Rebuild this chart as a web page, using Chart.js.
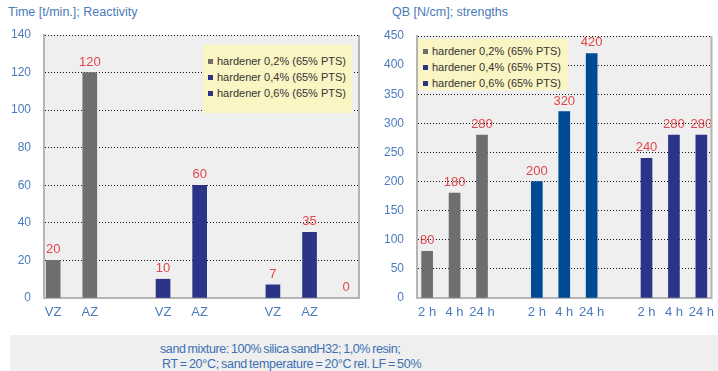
<!DOCTYPE html>
<html>
<head>
<meta charset="utf-8">
<script src="https://cdn.jsdelivr.net/npm/chart.js@4.4.0/dist/chart.umd.min.js"></script>
<style>
  html, body { margin: 0; padding: 0; background: #fff; }
  body { width: 718px; height: 371px; overflow: hidden; position: relative;
         font-family: 'Liberation Sans', Arial, sans-serif; }
  .title { position: absolute; top: 5px; font-size: 12.5px; color: #4a7ab8; white-space: nowrap; }
  .panel { position: absolute; top: 0; }
  .legend { position: absolute; background: #faf5c3; font-size: 11px; color: #333;
            box-sizing: border-box; padding-left: 5px; white-space: nowrap; }
  .legend div { height: 16px; line-height: 16px; }
  .legend i { display: inline-block; width: 5px; height: 5px; margin-right: 4px; vertical-align: middle; position: relative; top: -1px; }
  .note { position: absolute; left: 10px; top: 335px; width: 708px; height: 36px; background: #efefef;
          color: #3c6fb3; font-size: 12.5px; line-height: 15px; box-sizing: border-box;
          padding: 7px 0 0 150px; white-space: nowrap; }
  .note .l1 { letter-spacing: -0.4px; word-spacing: -1px; }
  .note .l2 { letter-spacing: -0.3px; word-spacing: -1px; padding-left: 2px; }
</style>
</head>
<body>
<div class="title" style="left:8px">Time [t/min.]; Reactivity</div>
<div class="title" style="left:392px">QB [N/cm]; strengths</div>

<div class="panel" style="left:0;width:360px;height:335px"><canvas id="reactivity" width="360" height="335"></canvas></div>
<div class="panel" style="left:360px;width:361px;height:335px"><canvas id="strengths" width="361" height="335"></canvas></div>

<div class="legend" id="leg-reactivity" style="left:203px;top:45px;width:149px;height:68px;padding-top:8px"></div>
<div class="legend" id="leg-strengths" style="left:418px;top:39px;width:150px;height:51px;padding-top:4px"></div>

<div class="note"><span class="l1">sand mixture: 100% silica sandH32; 1,0% resin;</span><br><span class="l2">RT = 20°C; sand temperature = 20°C rel. LF = 50%</span></div>

<script>
// series names (same for both charts)
const seriesNames = ['hardener 0,2% (65% PTS)', 'hardener 0,4% (65% PTS)', 'hardener 0,6% (65% PTS)'];

// Reactivity, time in minutes (slot index = x position, '' = empty slot)
const reactLabels = ['VZ', 'AZ', '', 'VZ', 'AZ', '', 'VZ', 'AZ', ''];
const react02 = [20, 120, null, null, null, null, null, null, null];
const react04 = [null, null, null, 10, 60, null, null, null, null];
const react06 = [null, null, null, null, null, null, 7, 35, 0];

// Strengths QB in N/cm
const strengthLabels = ['2 h', '4 h', '24 h', '', '2 h', '4 h', '24 h', '', '2 h', '4 h', '24 h'];
const strength02 = [80, 180, 280, null, null, null, null, null, null, null, null];
const strength04 = [null, null, null, null, 200, 320, 420, null, null, null, null];
const strength06 = [null, null, null, null, null, null, null, null, 240, 280, 280];

const GRAY = '#6e6e6e', NAVY = '#2b3487', BLUE = '#004a93';
const AXIS_BLUE = '#4b7bbd', LABEL_RED = '#e0474c';
const FONT = 'Liberation Sans, Arial, sans-serif';

// values -> {x, y} points, skipping empty slots
const pts = vals => vals.map((v, i) => v === null ? null : { x: i, y: v }).filter(Boolean);

function barDS(label, vals, color, thickness){
  return {
    label, data: pts(vals), barThickness: thickness, grouped: false,
    // a zero bar only carries its label
    backgroundColor: c => (c.raw && c.raw.y === 0) ? 'transparent' : color
  };
}

// plot background + right frame line
const plotFrame = {
  id: 'plotFrame',
  beforeDraw(chart){
    const { ctx, chartArea: a } = chart;
    ctx.save();
    ctx.fillStyle = '#efefef';
    ctx.fillRect(a.left, a.top, a.right - a.left, a.bottom - a.top);
    ctx.restore();
  },
  afterDraw(chart){
    const { ctx, chartArea: a } = chart;
    ctx.save();
    ctx.strokeStyle = '#b5b5b5';
    ctx.lineWidth = 2;
    ctx.beginPath();
    ctx.moveTo(a.right, a.top);
    ctx.lineTo(a.right, a.bottom + 1);
    ctx.stroke();
    ctx.restore();
  }
};

// red value above every bar
const valueLabels = {
  id: 'valueLabels',
  afterDatasetsDraw(chart){
    const ctx = chart.ctx;
    ctx.save();
    ctx.font = '13px ' + FONT;
    ctx.fillStyle = LABEL_RED;
    ctx.textAlign = 'center';
    chart.data.datasets.forEach((ds, i) => {
      chart.getDatasetMeta(i).data.forEach((bar, j) => {
        ctx.fillText(String(ds.data[j].y), bar.x, bar.y - 7);
      });
    });
    ctx.restore();
  }
};

function makeChart(id, o){
  return new Chart(document.getElementById(id), {
    type: 'bar',
    data: { datasets: o.datasets },
    options: {
      responsive: false,
      animation: false,
      layout: { padding: { top: o.top, right: o.right, left: 0, bottom: 0 } },
      plugins: { legend: { display: false }, tooltip: { enabled: false } },
      scales: {
        x: {
          type: 'linear', min: o.xMin, max: o.xMax, offset: false,
          afterFit: s => { s.height = 37; },
          afterBuildTicks: s => { s.ticks = o.labels.map((l, i) => ({ value: i })).filter(t => o.labels[t.value]); },
          grid: { color: 'transparent', drawTicks: false },
          border: { color: '#b5b5b5', width: 2 },
          ticks: { autoSkip: false, maxRotation: 0, padding: 7, color: AXIS_BLUE,
                   font: { family: FONT, size: 13 }, callback: v => o.labels[v] }
        },
        y: {
          min: 0, max: o.yMax,
          afterFit: s => { s.width = o.yWidth; },
          grid: { color: c => c.tick && c.tick.value === 0 ? 'transparent' : '#111', lineWidth: 1, drawTicks: false },
          border: { color: '#b5b5b5', width: 2, dash: [1, 2] },
          ticks: { stepSize: o.yStep, padding: 13, color: AXIS_BLUE, font: { family: FONT, size: 12 } }
        }
      }
    },
    plugins: [plotFrame, valueLabels]
  });
}

function makeLegend(id, colors){
  document.getElementById(id).innerHTML = seriesNames
    .map((n, i) => `<div><i style="background:${colors[i]}"></i>${n}</div>`).join('');
}

// Reactivity
makeChart('reactivity', {
  labels: reactLabels, xMin: -0.25, xMax: 8.35, yMax: 140, yStep: 20, yWidth: 44, top: 35, right: 1,
  datasets: [
    barDS(seriesNames[0], react02, GRAY, 14),
    barDS(seriesNames[1], react04, NAVY, 14),
    barDS(seriesNames[2], react06, NAVY, 14)
  ]
});
makeLegend('leg-reactivity', [GRAY, NAVY, NAVY]);

// Strengths
makeChart('strengths', {
  labels: strengthLabels, xMin: -0.37, xMax: 10.37, yMax: 450, yStep: 50, yWidth: 57, top: 36, right: 0,
  datasets: [
    barDS(seriesNames[0], strength02, GRAY, 11),
    barDS(seriesNames[1], strength04, BLUE, 11),
    barDS(seriesNames[2], strength06, NAVY, 11)
  ]
});
makeLegend('leg-strengths', [GRAY, NAVY, NAVY]);
</script>
</body>
</html>
